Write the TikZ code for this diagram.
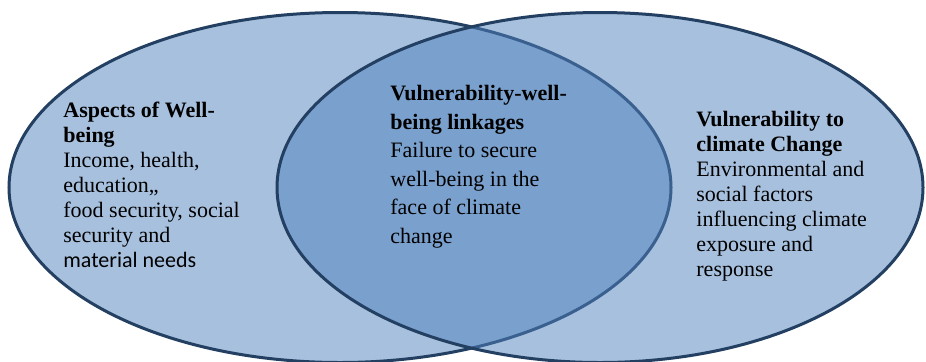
\documentclass[tikz,border=0pt]{standalone}
\usepackage{fontspec}
\setmainfont{Liberation Serif}
\newfontfamily\sansfont{Carlito}
\usetikzlibrary{shapes.geometric}
\definecolor{accentblue}{HTML}{4F81BD}
\definecolor{rimblue}{HTML}{233F61}

\begin{document}
\begin{tikzpicture}[x=0.5pt, y=0.5pt,
  every node/.style={font=\fontsize{11}{12.5}\selectfont},
  venn/.style={ellipse, draw=rimblue, line width=1.5pt, fill=accentblue,
    fill opacity=0.5, inner sep=0pt, minimum height=175pt},
  blocktext/.style={anchor=base west, align=left, inner sep=0pt}]
  \clip (0,0) rectangle (926,361);
  % the two overlapping sets
  \node[venn, minimum width=331pt] (wellbeing) at (340,173.5) {};
  \node[venn, minimum width=323pt] (climate) at (600,173.5) {};
  % texts (placed at the baseline of their last line)
  \node[blocktext] (aspects) at (63,94) {\textbf{Aspects of Well-}\\\textbf{being}\\
    Income, health,\\education,,\\food security, social\\security and\\
    {\sansfont material needs}};
  \node[blocktext, font=\fontsize{11}{14.25}\selectfont] (linkages) at (390,118)
    {\textbf{Vulnerability-well-}\\\textbf{being linkages}\\Failure to secure\\
    well-being in the\\face of climate\\change};
  \node[blocktext] (exposure) at (696,85) {\textbf{Vulnerability to}\\
    \textbf{climate Change}\\Environmental and\\social factors\\
    influencing climate\\exposure and\\response};
\end{tikzpicture}
\end{document}
